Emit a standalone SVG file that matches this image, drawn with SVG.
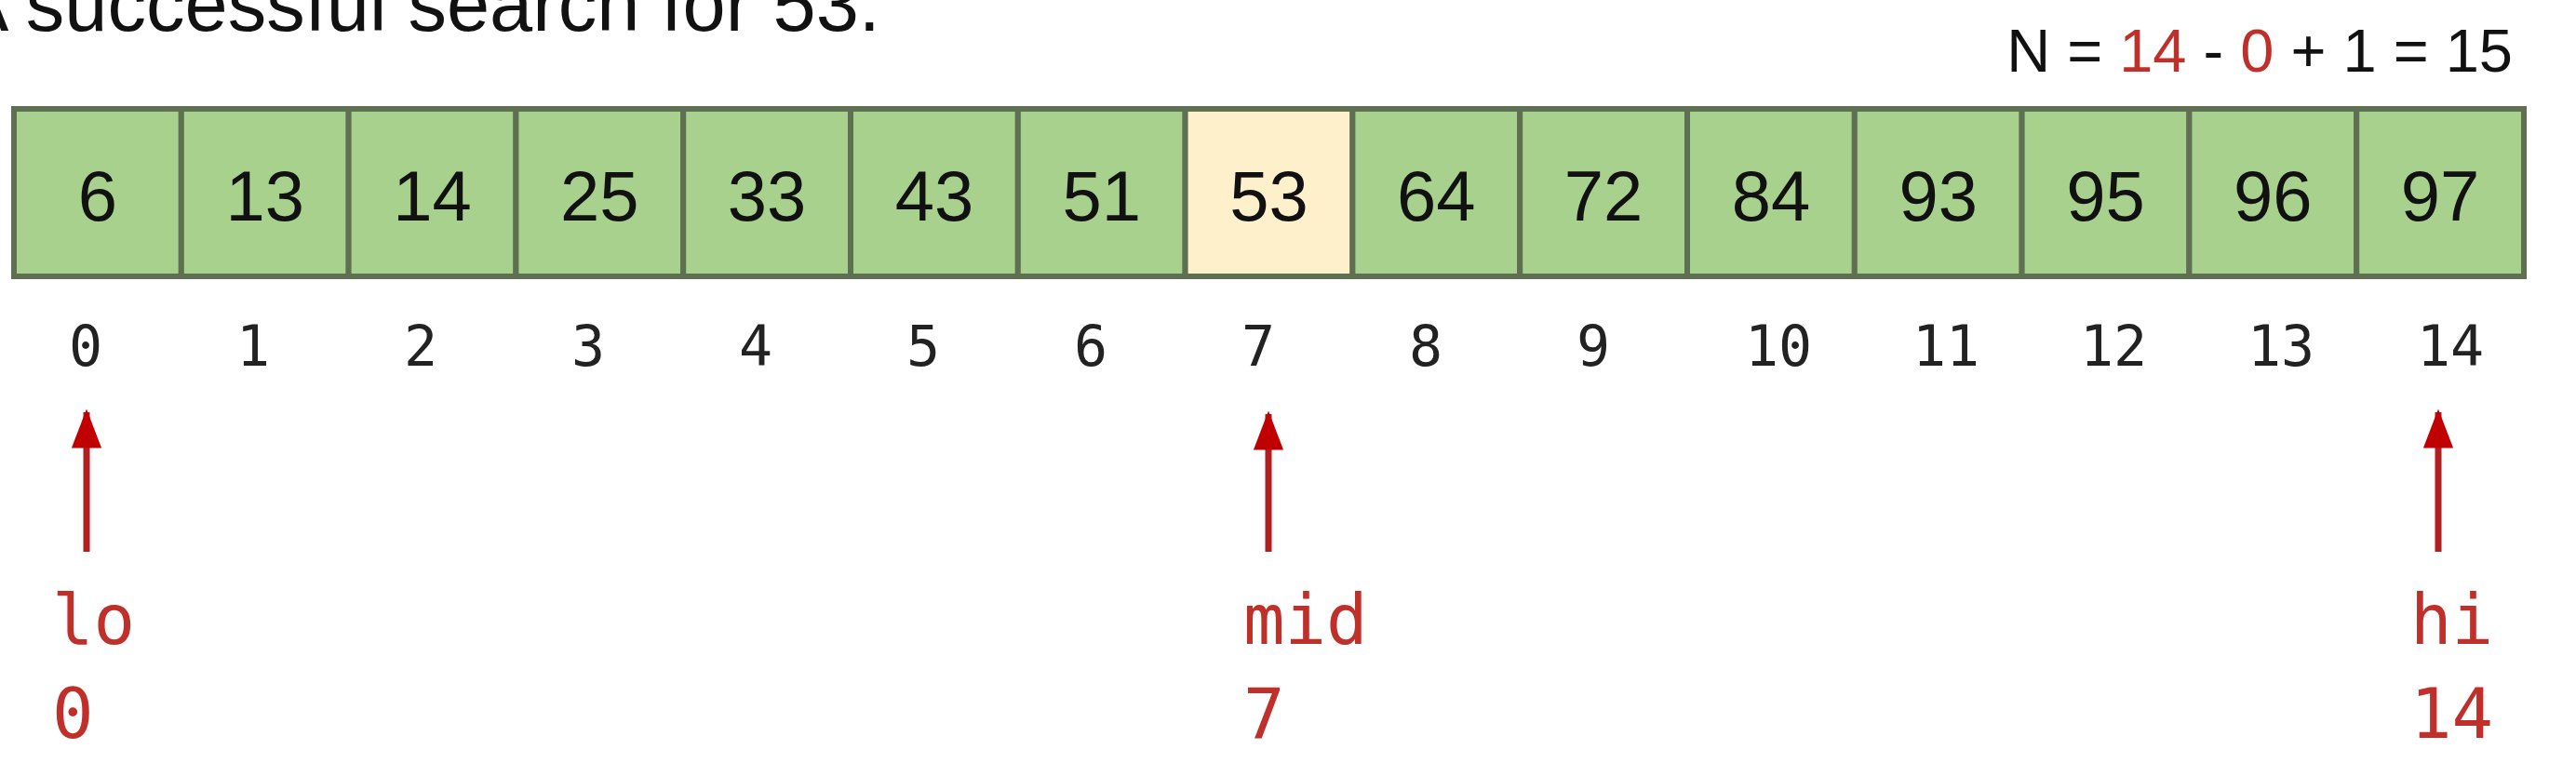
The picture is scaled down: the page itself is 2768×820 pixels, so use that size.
<svg xmlns="http://www.w3.org/2000/svg" width="2768" height="820" viewBox="0 0 2768 820">
<style>
.cell{fill:#a9d18e;stroke:#5f6f52;stroke-width:6}
.hl{fill:#fff0cc}
.val{font-family:"Liberation Sans",Arial,sans-serif;font-size:76px;fill:#111;text-anchor:middle}
.idx{font-family:"DejaVu Sans Mono",monospace;font-size:60px;fill:#222}
.ptr{font-family:"DejaVu Sans Mono",monospace;font-size:74px;fill:#c0302a}
.title{font-family:"Liberation Sans",Arial,sans-serif;font-size:83px;fill:#111}
.formula{font-family:"Liberation Sans",Arial,sans-serif;font-size:65px;fill:#111;text-anchor:end}
.red{fill:#c0302a}
.arrow{stroke:#b01e1e;stroke-width:7;fill:none}
</style>
<defs>
<marker id="ah" markerWidth="6" markerHeight="4.6" refX="5.5" refY="2.3" orient="auto" markerUnits="strokeWidth">
<path d="M0,0 L6,2.3 L0,4.6 Z" fill="#c00000"/>
</marker>
</defs>
<rect width="2768" height="820" fill="#ffffff"/>
<text class="title" x="-46" y="33">A successful search for 53.</text>
<text class="formula" x="2700" y="77">N = <tspan class="red">14</tspan> - <tspan class="red">0</tspan> + 1 = 15</text>
<g id="array">
<g id="c0"><rect class="cell" x="15" y="117" width="179.8" height="180"/><text class="val" x="105" y="237">6</text></g>
<g id="c1"><rect class="cell" x="194.8" y="117" width="179.8" height="180"/><text class="val" x="284.7" y="237">13</text></g>
<g id="c2"><rect class="cell" x="374.6" y="117" width="179.8" height="180"/><text class="val" x="464.5" y="237">14</text></g>
<g id="c3"><rect class="cell" x="554.4" y="117" width="179.8" height="180"/><text class="val" x="644.3" y="237">25</text></g>
<g id="c4"><rect class="cell" x="734.2" y="117" width="179.8" height="180"/><text class="val" x="824.1" y="237">33</text></g>
<g id="c5"><rect class="cell" x="914" y="117" width="179.8" height="180"/><text class="val" x="1003.9" y="237">43</text></g>
<g id="c6"><rect class="cell" x="1093.8" y="117" width="179.8" height="180"/><text class="val" x="1183.7" y="237">51</text></g>
<g id="c7"><rect class="cell hl" x="1273.6" y="117" width="179.8" height="180"/><text class="val" x="1363.5" y="237">53</text></g>
<g id="c8"><rect class="cell" x="1453.4" y="117" width="179.8" height="180"/><text class="val" x="1543.3" y="237">64</text></g>
<g id="c9"><rect class="cell" x="1633.2" y="117" width="179.8" height="180"/><text class="val" x="1723.1" y="237">72</text></g>
<g id="c10"><rect class="cell" x="1813" y="117" width="179.8" height="180"/><text class="val" x="1902.9" y="237">84</text></g>
<g id="c11"><rect class="cell" x="1992.8" y="117" width="179.8" height="180"/><text class="val" x="2082.7" y="237">93</text></g>
<g id="c12"><rect class="cell" x="2172.6" y="117" width="179.8" height="180"/><text class="val" x="2262.5" y="237">95</text></g>
<g id="c13"><rect class="cell" x="2352.4" y="117" width="179.8" height="180"/><text class="val" x="2442.3" y="237">96</text></g>
<g id="c14"><rect class="cell" x="2532.2" y="117" width="179.8" height="180"/><text class="val" x="2622.1" y="237">97</text></g>
</g>
<g id="indices">
<text class="idx" x="74" y="393">0</text>
<text class="idx" x="254" y="393">1</text>
<text class="idx" x="434" y="393">2</text>
<text class="idx" x="614" y="393">3</text>
<text class="idx" x="794" y="393">4</text>
<text class="idx" x="974" y="393">5</text>
<text class="idx" x="1154" y="393">6</text>
<text class="idx" x="1334" y="393">7</text>
<text class="idx" x="1514" y="393">8</text>
<text class="idx" x="1694" y="393">9</text>
<text class="idx" x="1875" y="393">10</text>
<text class="idx" x="2055" y="393">11</text>
<text class="idx" x="2235" y="393">12</text>
<text class="idx" x="2415" y="393">13</text>
<text class="idx" x="2597" y="393">14</text>
</g>
<g id="connectors">
<line class="arrow" x1="93" y1="593" x2="93" y2="443" marker-end="url(#ah)"/>
<line class="arrow" x1="1363" y1="593" x2="1363" y2="445" marker-end="url(#ah)"/>
<line class="arrow" x1="2620" y1="593" x2="2620" y2="443" marker-end="url(#ah)"/>
</g>
<g id="lo"><text class="ptr" x="56" y="692">lo</text><text class="ptr" x="56" y="793">0</text></g>
<g id="mid"><text class="ptr" x="1336" y="692">mid</text><text class="ptr" x="1336" y="793">7</text></g>
<g id="hi"><text class="ptr" x="2590" y="692">hi</text><text class="ptr" x="2590" y="793">14</text></g>
</svg>
